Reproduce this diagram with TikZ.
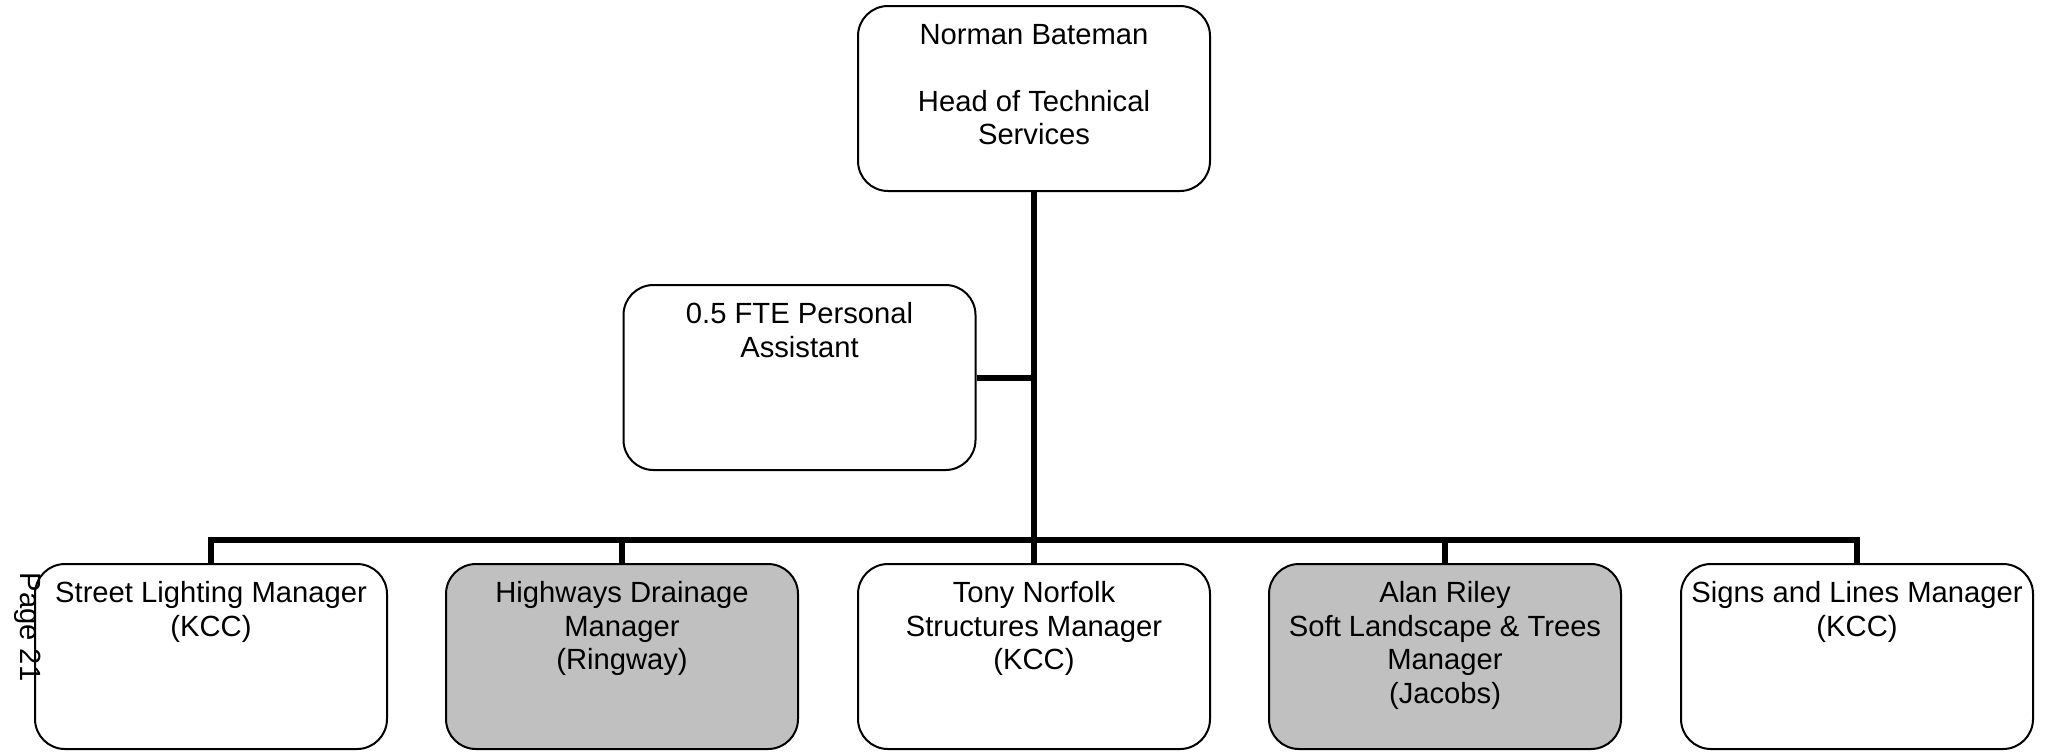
\documentclass[tikz,border=0pt]{standalone}
\usepackage{fontspec}
\setmainfont{Liberation Sans}
\usepackage{xcolor}
\usetikzlibrary{positioning}
\definecolor{boxgray}{RGB}{192,192,192}

\begin{document}
\begin{tikzpicture}[x=0.5pt,y=-0.5pt,
  post/.style={draw,line width=1pt,rounded corners=15pt,minimum width=176pt,minimum height=92.5pt,inner sep=0pt},
  contractor/.style={post,fill=boxgray},
  posttext/.style={font=\fontsize{14.6}{16.8}\selectfont,align=center,inner sep=0pt},
  link/.style={line width=3pt,line join=miter}]
  \useasboundingbox (0,0) rectangle (2045,751);
  % boxes
  \node[post] (head) at (1034,98.5) {};
  \node[post] (pa) at (799.5,377.5) {};
  \node[post] (street) at (211,656.5) {};
  \node[contractor] (drain) at (622,656.5) {};
  \node[post] (tony) at (1034,656.5) {};
  \node[contractor] (alan) at (1445,656.5) {};
  \node[post] (signs) at (1857,656.5) {};
  % texts
  \node[posttext,below=9.3pt of head.north] (headtxt) {Norman Bateman\\[16.8pt]Head of Technical\\Services};
  \node[posttext,below=9pt of pa.north] (patxt) {0.5 FTE Personal\\Assistant};
  \node[posttext,below=9.1pt of street.north] (streettxt) {Street Lighting Manager\\(KCC)};
  \node[posttext,below=9.1pt of drain.north] (draintxt) {Highways Drainage\\Manager\\(Ringway)};
  \node[posttext,below=9.1pt of tony.north] (tonytxt) {Tony Norfolk\\Structures Manager\\(KCC)};
  \node[posttext,below=9.1pt of alan.north] (alantxt) {Alan Riley\\Soft Landscape \& Trees\\Manager\\(Jacobs)};
  \node[posttext,below=9.1pt of signs.north] (signstxt) {Signs and Lines Manager\\(KCC)};
  \node[posttext,rotate=-90] (page) at (28,627) {Page 21};
  % connectors
  \coordinate (bus) at (1034,540);
  \draw[link] (head.south) -- (tony.north);
  \draw[link] (pa.east) -- (pa.east -| head.south);
  \draw[link] (street.north) |- (bus) -| (signs.north);
  \draw[link] (drain.north) -- (drain.north |- bus);
  \draw[link] (alan.north) -- (alan.north |- bus);
\end{tikzpicture}
\end{document}
